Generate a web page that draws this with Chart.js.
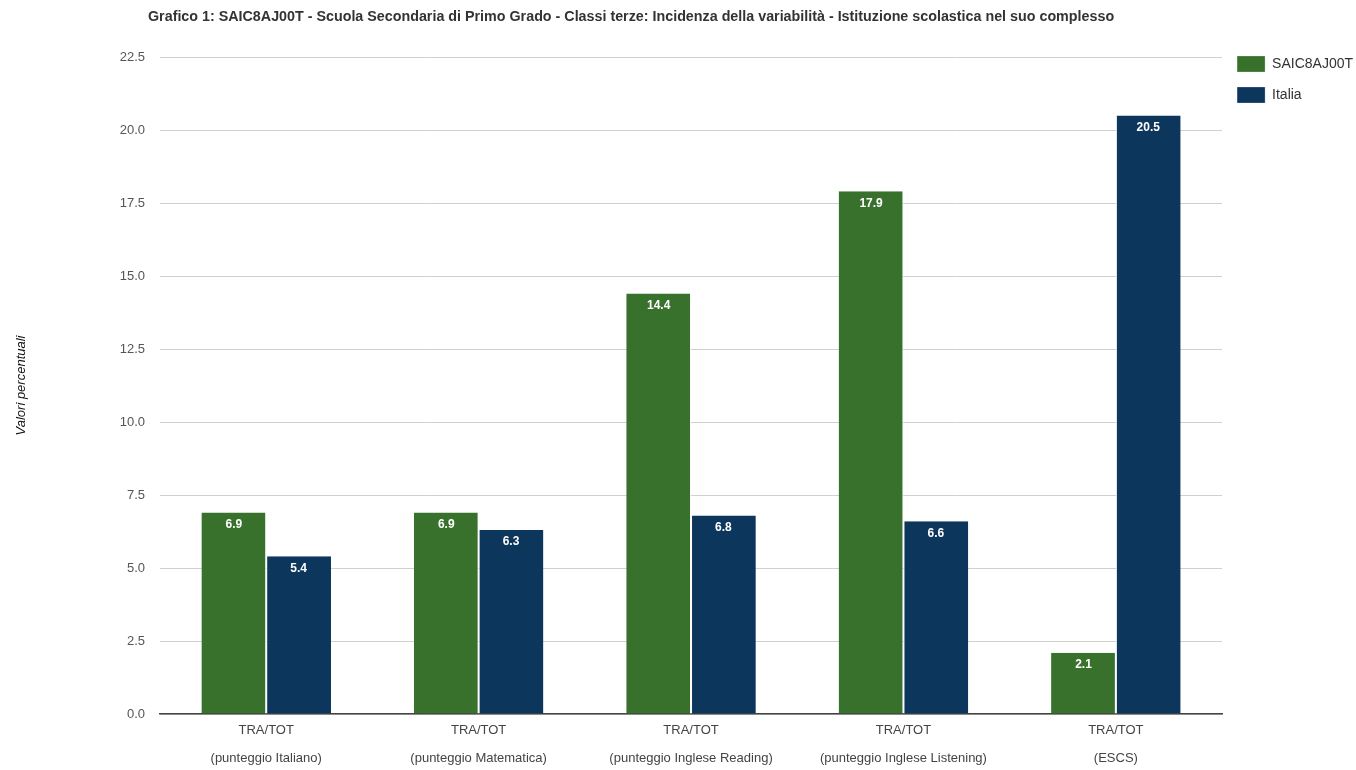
<!DOCTYPE html>
<html><head><meta charset="utf-8">
<script src="https://cdn.jsdelivr.net/npm/chart.js@4.4.1/dist/chart.umd.min.js"></script>
<style>html,body{margin:0;padding:0;background:#fff;}#wrap{width:1356px;height:770px;position:relative;}</style>
</head><body><div id="wrap"><canvas id="c" width="1356" height="770"></canvas></div>
<script>
const titleText = "Grafico 1: SAIC8AJ00T - Scuola Secondaria di Primo Grado - Classi terze: Incidenza della variabilità - Istituzione scolastica nel suo complesso";
const categories = [["TRA/TOT","(punteggio Italiano)"],["TRA/TOT","(punteggio Matematica)"],["TRA/TOT","(punteggio Inglese Reading)"],["TRA/TOT","(punteggio Inglese Listening)"],["TRA/TOT","(ESCS)"]];
const seriesNames = ["SAIC8AJ00T","Italia"];
const schoolValues = [6.9, 6.9, 14.4, 17.9, 2.1];
const italiaValues = [5.4, 6.3, 6.8, 6.6, 20.5];
const yTicks = [0, 2.5, 5, 7.5, 10, 12.5, 15, 17.5, 20, 22.5];
const yTitle = "Valori percentuali";

const FONT = "'Liberation Sans',Arial,sans-serif";

const titlePlugin = {
  id: 'customTitle',
  afterDraw(chart) {
    const ctx = chart.ctx;
    ctx.save();
    ctx.font = "bold 14.3px " + FONT;
    ctx.fillStyle = "#333";
    ctx.textAlign = "left";
    ctx.textBaseline = "middle";
    ctx.fillText(titleText, chart.chartArea.left - 12, 17);
    ctx.restore();
  }
};
const valueLabels = {
  id: 'valueLabels',
  afterDatasetsDraw(chart) {
    const ctx = chart.ctx;
    ctx.save();
    ctx.font = "bold 12px " + FONT;
    ctx.fillStyle = "#fff";
    ctx.textAlign = "center";
    ctx.textBaseline = "middle";
    chart.data.datasets.forEach((ds, i) => {
      chart.getDatasetMeta(i).data.forEach((el, j) => {
        ctx.fillText(ds.data[j].toFixed(1), el.x, el.y + 12);
      });
    });
    ctx.restore();
  }
};

new Chart(document.getElementById('c'), {
  type: 'bar',
  data: {
    labels: categories,
    datasets: [
      {label: seriesNames[0], data: schoolValues, backgroundColor: '#38712c', borderColor: '#ffffff', borderWidth: {left:0,right:1,top:0,bottom:0}, categoryPercentage: 0.61, barPercentage: 1.0},
      {label: seriesNames[1], data: italiaValues, backgroundColor: '#0c365c', borderColor: '#ffffff', borderWidth: {left:1,right:0,top:0,bottom:0}, categoryPercentage: 0.61, barPercentage: 1.0}
    ]
  },
  options: {
    responsive: false,
    animation: false,
    layout: {padding: {top: 41, right: -7, bottom: 0, left: 0}},
    plugins: {
      legend: {
        position: 'right', align: 'start',
        labels: {boxWidth: 28, boxHeight: 16, padding: 15, color: '#333', font: {family: FONT, size: 14}}
      },
      title: {display: false},
      tooltip: {enabled: false}
    },
    scales: {
      x: {
        grid: {display: false, drawTicks: false},
        border: {display: true, color: '#444', width: 1.5},
        ticks: {color: '#444', font: {family: FONT, size: 13, lineHeight: 2.2}, padding: 2, maxRotation: 0, autoSkip: false},
        afterFit(s) { s.height = 56; }
      },
      xTop: {
        type: 'category', position: 'top', display: true,
        grid: {display: false, drawTicks: false},
        border: {display: false},
        ticks: {display: false},
        afterFit(s) { s.height = 16; }
      },
      y: {
        min: 0, max: 22.5,
        afterBuildTicks(s) { s.ticks = yTicks.map(v => ({value: v})); },
        grid: {color: '#d0d0d0', drawTicks: false},
        border: {display: false},
        ticks: {color: '#555', font: {family: FONT, size: 13}, padding: 15, callback: v => Number(v).toFixed(1)},
        title: {display: true, text: yTitle, color: '#111', font: {family: FONT, size: 13, style: 'italic'}, padding: {top: 14, bottom: 0}},
        afterFit(s) { s.width = 160; }
      }
    }
  },
  plugins: [titlePlugin, valueLabels]
});
</script></body></html>
